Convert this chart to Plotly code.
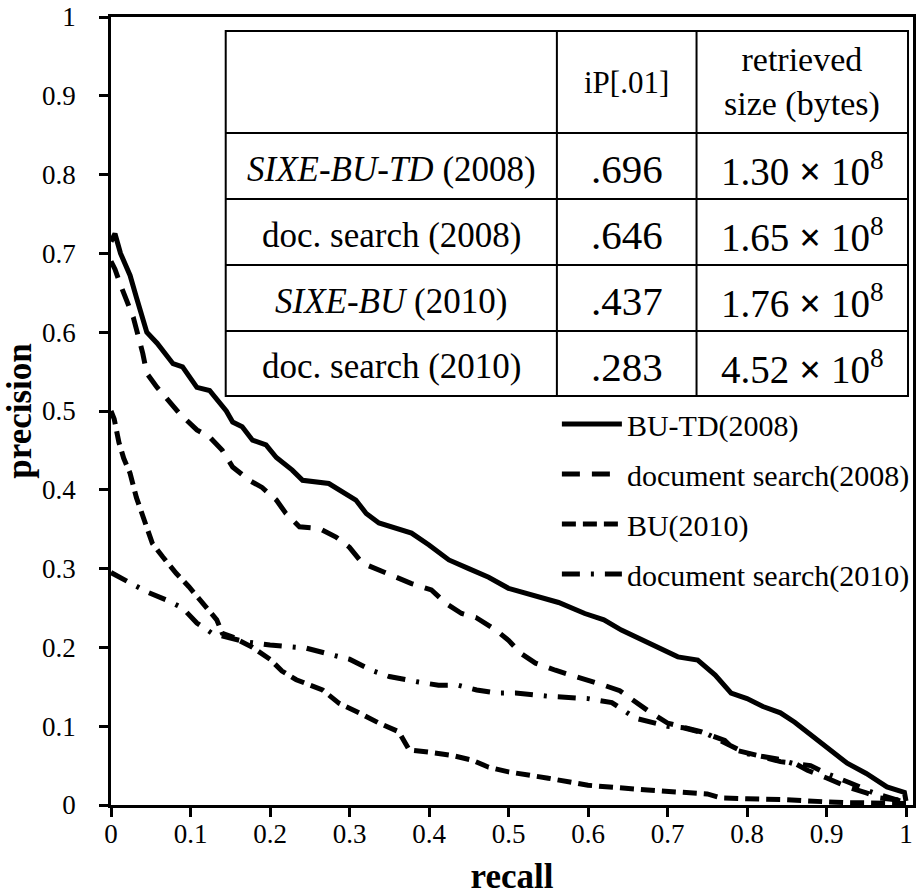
import plotly.graph_objects as go

# ---------------- data ----------------
bu_td_x = [0, .005, .012, .024, .032, .045, .058, .078, .09, .108, .124, .133, .145, .153, .165, .178, .195, .208, .228, .241, .274, .308, .321, .337, .378, .4, .425, .45, .475, .5, .529, .563, .596, .62, .642, .679, .713, .738, .76, .78, .8, .82, .842, .86, .892, .926, .95, .976, .998, 1.0]
bu_td_y = [.715, .725, .70, .672, .644, .60, .586, .56, .556, .53, .526, .514, .50, .486, .48, .463, .457, .441, .425, .412, .408, .387, .37, .358, .345, .33, .311, .30, .289, .275, .266, .257, .243, .235, .222, .205, .188, .184, .165, .142, .135, .125, .117, .105, .079, .053, .04, .023, .016, .005]

doc08_x = [0, .005, .012, .02, .028, .04, .045, .058, .074, .086, .108, .124, .14, .153, .174, .19, .208, .22, .237, .262, .283, .3, .316, .337, .358, .378, .403, .421, .441, .459, .484, .5, .516, .534, .559, .579, .6, .62, .64, .66, .675, .7, .722, .742, .772, .784, .813, .842, .86, .876, .901, .926, .951, .967, .992, 1.0]
doc08_y = [.69, .68, .66, .64, .619, .573, .548, .53, .51, .497, .476, .467, .45, .429, .412, .403, .387, .37, .353, .351, .34, .327, .307, .298, .289, .281, .273, .256, .243, .238, .222, .209, .192, .18, .171, .165, .158, .152, .145, .13, .12, .104, .099, .093, .082, .07, .063, .055, .053, .044, .034, .023, .015, .009, .006, .003]

bu10_x = [0, .004, .01, .016, .024, .032, .042, .052, .065, .082, .098, .115, .133, .14, .153, .178, .2, .215, .233, .266, .287, .312, .337, .362, .371, .375, .4, .429, .454, .475, .5, .521, .55, .6, .65, .675, .75, .767, .8, .842, .9, .926, 1.0]
bu10_y = [.50, .49, .46, .44, .421, .39, .361, .332, .315, .294, .277, .256, .235, .218, .213, .20, .185, .17, .159, .146, .129, .117, .104, .093, .079, .07, .067, .063, .057, .048, .042, .038, .034, .025, .02, .019, .014, .009, .008, .007, .004, .003, .002]

doc10_x = [0, .024, .046, .07, .09, .108, .127, .149, .17, .2, .246, .28, .3, .33, .35, .387, .412, .437, .46, .485, .509, .55, .6, .63, .645, .66, .7, .72, .75, .78, .8, .84, .86, .88, .9, .93, .96, 1.0]
doc10_y = [.295, .281, .27, .26, .25, .231, .218, .212, .207, .203, .199, .19, .185, .17, .163, .156, .152, .152, .146, .142, .142, .138, .135, .13, .12, .11, .10, .098, .09, .075, .065, .058, .052, .05, .04, .028, .015, .003]

series_names = ["BU-TD(2008)", "document search(2008)", "BU(2010)", "document search(2010)"]

tick_vals = [0, 0.1, 0.2, 0.3, 0.4, 0.5, 0.6, 0.7, 0.8, 0.9, 1]
tick_text = ["0", "0.1", "0.2", "0.3", "0.4", "0.5", "0.6", "0.7", "0.8", "0.9", "1"]

table_header = ["", "iP[.01]", "retrieved<br>size (bytes)"]
table_runs = ["<i>SIXE-BU-TD</i> (2008)", "doc. search (2008)", "<i>SIXE-BU</i> (2010)", "doc. search (2010)"]
table_ip = [".696", ".646", ".437", ".283"]
table_size = ["1.30 <b>×</b> 10<sup>8</sup>", "1.65 <b>×</b> 10<sup>8</sup>", "1.76 <b>×</b> 10<sup>8</sup>", "4.52 <b>×</b> 10<sup>8</sup>"]

# ---------------- figure ----------------
FONT = "Liberation Serif, Times New Roman, serif"
W, H = 918, 896
L, R, T, B = 111, 3, 17, 91
PW, PH = W - L - R, H - T - B


def px(x):
    return (x - L) / PW


def py(y):
    return (H - B - y) / PH


fig = go.Figure()
dashes = ["solid", "18px,12px", "14px,7px", "18px,11px,3px,11px"]
xs = [bu_td_x, doc08_x, bu10_x, doc10_x]
ys = [bu_td_y, doc08_y, bu10_y, doc10_y]
for i in range(4):
    fig.add_trace(go.Scatter(
        x=xs[i], y=ys[i], mode="lines", name=series_names[i],
        legendgroup=str(i),
        line=dict(color="black", width=5, dash=dashes[i]),
    ))

axis_common = dict(
    showgrid=False, zeroline=False, showline=True, linecolor="black", linewidth=2.5,
    ticks="outside", ticklen=9, tickwidth=2.5, tickcolor="black", mirror=True,
    tickfont=dict(family=FONT, size=27, color="black"),
    tickvals=tick_vals, ticktext=tick_text,
)

fig.update_layout(
    width=W, height=H, autosize=False,
    margin=dict(l=L, r=R, t=T, b=B, pad=0),
    paper_bgcolor="white", plot_bgcolor="white",
    font=dict(family=FONT, color="black"),
    xaxis=dict(range=[0, 1.0088], **axis_common,
               title=dict(text="<b>recall</b>", font=dict(family=FONT, size=35, color="black"), standoff=17),
               ticklabelstandoff=-6),
    yaxis=dict(range=[0, 1], **axis_common,
               title=dict(text="<b>precision</b>", font=dict(family=FONT, size=35, color="black"), standoff=3),
               ticklabelstandoff=18),
    showlegend=True,
    legend=dict(x=px(558), y=py(398), xanchor="left", yanchor="top",
                font=dict(family=FONT, size=30, color="black"),
                bgcolor="rgba(0,0,0,0)", itemwidth=60, tracegroupgap=8,
                traceorder="grouped"),
)

# ---------------- inset table ----------------
col_x = [226, 558, 698, 910]
row_y = [31, 133, 199, 265, 331, 396]

fig.add_shape(type="rect", xref="paper", yref="paper",
              x0=px(col_x[0]), x1=px(col_x[-1]), y0=py(row_y[-1]), y1=py(row_y[0]),
              line=dict(color="black", width=2), fillcolor="white", layer="above")
for cx in col_x[1:-1]:
    fig.add_shape(type="line", xref="paper", yref="paper",
                  x0=px(cx), x1=px(cx), y0=py(row_y[-1]), y1=py(row_y[0]),
                  line=dict(color="black", width=2), layer="above")
for ry in row_y[1:-1]:
    fig.add_shape(type="line", xref="paper", yref="paper",
                  x0=px(col_x[0]), x1=px(col_x[-1]), y0=py(ry), y1=py(ry),
                  line=dict(color="black", width=2), layer="above")

col_centers = [(col_x[i] + col_x[i + 1]) / 2 for i in range(3)]
row_centers = [(row_y[i] + row_y[i + 1]) / 2 for i in range(5)]

header_sizes = [32, 31, 34]
for j, txt in enumerate(table_header):
    if txt:
        fig.add_annotation(xref="paper", yref="paper", x=px(col_centers[j]), y=py(row_centers[0]),
                           text=txt, showarrow=False, xanchor="center", yanchor="middle",
                           font=dict(family=FONT, size=header_sizes[j], color="black"))
cell_sizes = [35, 41, 39]
for i in range(4):
    cells = [table_runs[i], table_ip[i], table_size[i]]
    for j in range(3):
        fig.add_annotation(xref="paper", yref="paper", x=px(col_centers[j]), y=py(row_centers[i + 1] + 3),
                           text=cells[j], showarrow=False, xanchor="center", yanchor="middle",
                           font=dict(family=FONT, size=cell_sizes[j], color="black"))

fig.write_html("out.html", config={"displayModeBar": False},
               post_script="document.body.style.margin='0';document.body.style.overflow='hidden';")
